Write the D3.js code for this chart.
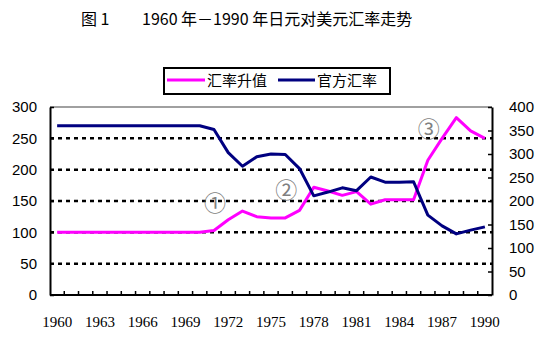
<!DOCTYPE html>
<html><head><meta charset="utf-8">
<script src="https://cdn.jsdelivr.net/npm/d3@7"></script>
<style>body{margin:0;background:#fff}svg{display:block}</style>
</head><body>
<svg id="c" width="550" height="337"></svg>
<script>
const years = d3.range(1960, 1991);
const appreciation = [100,100,100,100,100,100,100,100,100,100,100,103,120,134,125,123,123,135,172,166,159,165,145,152,152,152,215,250,283,262,250];
const officialRate = [360,360,360,360,360,360,360,360,360,360,360,352,303,274,294,300,299,269,211,219,228,222,251,240,240,241,170,147,130,138,145];
const leftTicks = [0,50,100,150,200,250,300];
const rightTicks = [0,50,100,150,200,250,300,350,400];
const xLabelYears = d3.range(1960, 1991, 3);
const seriesNames = ["汇率升值", "官方汇率"];
const colors = ["#FF00FF", "#000080"];

const svg = d3.select("#c");
const L = 50, R = 492, T = 107, B = 295;
const x = d3.scaleBand().domain(years).range([L, R]);
const cx = d => x(d) + x.bandwidth() / 2;
const yL = d3.scaleLinear().domain([0, 300]).range([B, T]);
const yR = d3.scaleLinear().domain([0, 400]).range([B, T]);

// title
const title = svg.append("text").attr("y", 25).attr("font-family", "Noto Sans CJK SC").attr("font-size", 16).attr("fill", "#000");
title.append("tspan").attr("x", 81).text("图 1");
title.append("tspan").attr("x", 142).text("1960 年－1990 年日元对美元汇率走势");

// gridlines
svg.append("g").selectAll("line").data(leftTicks.filter(v => v > 0 && v < 300)).join("line")
  .attr("x1", L).attr("x2", R).attr("y1", d => yL(d)).attr("y2", d => yL(d))
  .attr("stroke", "#000").attr("stroke-width", 2.5).attr("stroke-dasharray", "4,4");
// top border
svg.append("line").attr("x1", L).attr("x2", R).attr("y1", T).attr("y2", T).attr("stroke", "#808080").attr("stroke-width", 1.5);

// axes
const axL = d3.axisLeft(yL).tickValues(leftTicks).tickSizeInner(-4).tickSizeOuter(0).tickPadding(13);
const gL = svg.append("g").attr("transform", `translate(${L},0)`).call(axL);
const axR = d3.axisRight(yR).tickValues(rightTicks).tickSizeInner(-4).tickSizeOuter(0).tickPadding(17);
const gR = svg.append("g").attr("transform", `translate(${R},0)`).call(axR);
[gL, gR].forEach(g => {
  g.select(".domain").attr("stroke", "#000").attr("stroke-width", 2);
  g.selectAll(".tick line").attr("stroke", "#000").attr("stroke-width", 1.5);
  g.selectAll("text").attr("font-family", "Liberation Sans, Arial").attr("font-size", 15).attr("fill", "#000");
});

// x axis
const gX = svg.append("g");
gX.append("line").attr("x1", L).attr("x2", R).attr("y1", B).attr("y2", B).attr("stroke", "#000").attr("stroke-width", 2);
gX.selectAll("line.t").data(years.slice(1)).join("line").attr("class", "t")
  .attr("x1", d => x(d)).attr("x2", d => x(d)).attr("y1", B).attr("y2", B - 4)
  .attr("stroke", "#000").attr("stroke-width", 1.5);
gX.selectAll("text").data(xLabelYears).join("text")
  .attr("x", d => cx(d)).attr("y", 327).attr("text-anchor", "middle")
  .attr("font-family", "Liberation Serif, Times New Roman").attr("font-size", 15).text(d => d);

// lines
const lineL = d3.line().x((d, i) => cx(years[i])).y(d => yL(d));
const lineR = d3.line().x((d, i) => cx(years[i])).y(d => yR(d));
svg.append("path").attr("d", lineL(appreciation)).attr("fill", "none").attr("stroke", colors[0]).attr("stroke-width", 3).attr("stroke-linejoin", "round");
svg.append("path").attr("d", lineR(officialRate)).attr("fill", "none").attr("stroke", colors[1]).attr("stroke-width", 3).attr("stroke-linejoin", "round");

// annotations
const notes = [{t: "①", yr: 1971, v: 147}, {t: "②", yr: 1976, v: 168}, {t: "③", yr: 1986, v: 265}];
svg.append("g").selectAll("text").data(notes).join("text")
  .attr("x", d => cx(d.yr) + 1).attr("y", d => yL(d.v) + 8).attr("text-anchor", "middle")
  .attr("font-family", "Noto Sans CJK SC").attr("font-size", 22).attr("fill", "#808080").text(d => d.t);

// legend
const lg = svg.append("g");
lg.append("rect").attr("x", 164).attr("y", 68).attr("width", 226).attr("height", 26).attr("fill", "#fff").attr("stroke", "#000").attr("stroke-width", 2);
const lx = [{x1: 167, x2: 205, tx: 207}, {x1: 278, x2: 315, tx: 317}];
seriesNames.forEach((n, i) => {
  lg.append("line").attr("x1", lx[i].x1).attr("x2", lx[i].x2).attr("y1", 80).attr("y2", 80).attr("stroke", colors[i]).attr("stroke-width", 3);
  lg.append("text").attr("x", lx[i].tx).attr("y", 86).attr("font-family", "Noto Sans CJK SC").attr("font-size", 15).text(n);
});
</script>
</body></html>
